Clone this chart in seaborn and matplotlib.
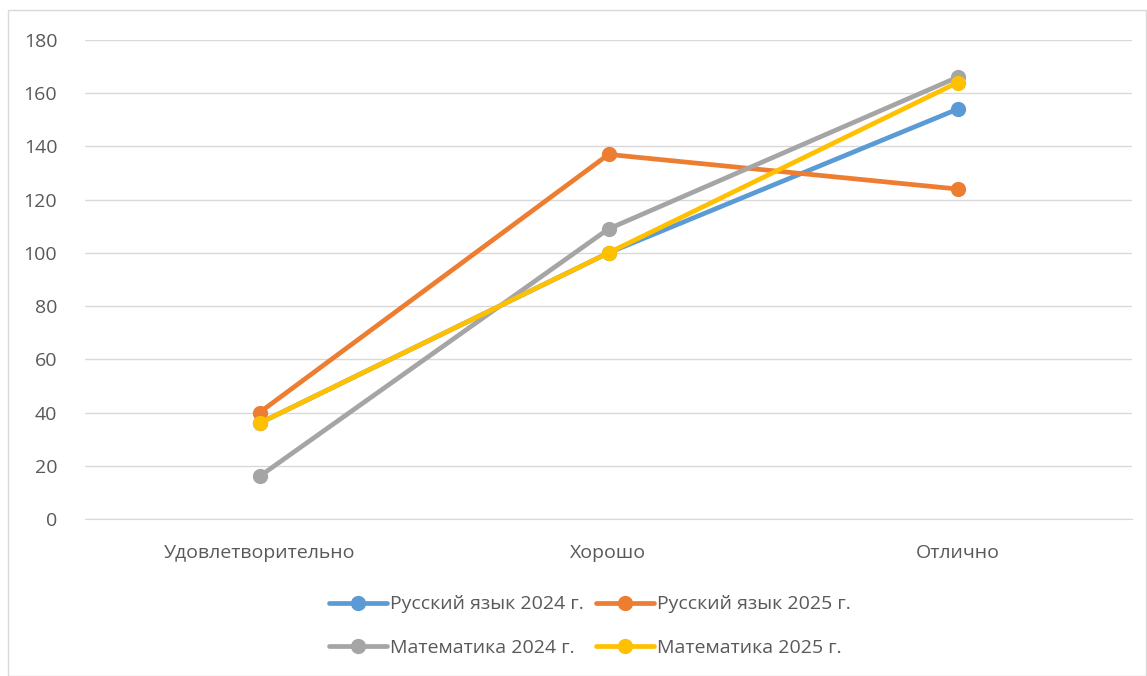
import pandas as pd
import matplotlib.pyplot as plt
import seaborn as sns
from matplotlib.patches import Rectangle

categories = ["Удовлетворительно", "Хорошо", "Отлично"]
series_names = ["Русский язык 2024 г.", "Русский язык 2025 г.",
                "Математика 2024 г.", "Математика 2025 г."]
rus_2024 = [36, 100, 154]
rus_2025 = [40, 137, 124]
math_2024 = [16, 109, 166]
math_2025 = [36, 100, 164]
colors = ["#5B9BD5", "#ED7D31", "#A5A5A5", "#FFC000"]

rows = []
for name, vals in zip(series_names, [rus_2024, rus_2025, math_2024, math_2025]):
    for i, (cat, v) in enumerate(zip(categories, vals)):
        rows.append({"pos": i, "cat": cat, "value": v, "series": name})
df = pd.DataFrame(rows)

sns.set_style("white")
plt.rcParams['font.family'] = ['Open Sans', 'DejaVu Sans']

fig = plt.figure(figsize=(11.47, 6.76), dpi=100)
ax = fig.add_axes([85 / 1147, 1 - 519 / 676, (1132 - 85) / 1147, (519 - 40) / 676])

sns.lineplot(data=df, x="pos", y="value", hue="series", hue_order=series_names,
             palette=colors, marker="o", markersize=11, markeredgewidth=0,
             linewidth=3.4, ax=ax, legend=True)

ax.set_xlim(-0.5, 2.5)
ax.set_ylim(0, 180)
ax.set_yticks(range(0, 181, 20))
ax.set_xticks(range(len(categories)))
ax.set_xticklabels(categories)
ax.set_xlabel("")
ax.set_ylabel("")
ax.grid(axis="y", color="#D9D9D9", linewidth=1)
ax.set_axisbelow(True)
for s in ["top", "right", "left"]:
    ax.spines[s].set_visible(False)
ax.spines["bottom"].set_color("#D9D9D9")
ax.tick_params(axis="both", length=0, labelsize=14, colors="#595959")
ax.tick_params(axis="x", pad=18)
ax.tick_params(axis="y", pad=20)

# row-major legend order: two series per row
handles, labels = ax.get_legend_handles_labels()
order = [0, 2, 1, 3]
ax.legend([handles[i] for i in order], [labels[i] for i in order], ncol=2, loc="center",
          bbox_to_anchor=(590 / 1147, 1 - 626 / 676),
          bbox_transform=fig.transFigure, frameon=False, fontsize=14,
          handlelength=3.0, handletextpad=0.15, columnspacing=0.6, labelspacing=1.3,
          labelcolor="#595959")

fig.patches.append(Rectangle((8 / 1147, 0), 1 - 9 / 1147, 1 - 10 / 676,
                             transform=fig.transFigure, fill=False,
                             edgecolor="#D9D9D9", linewidth=1))

fig.savefig("out.png", dpi=100)
